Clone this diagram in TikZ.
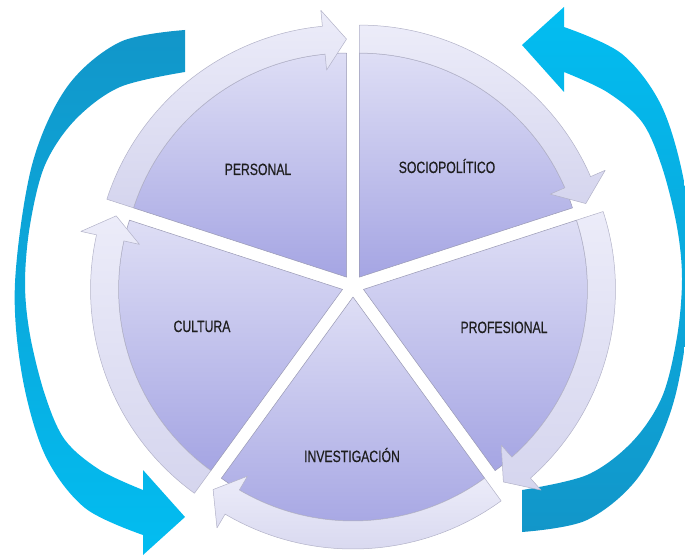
\documentclass[tikz,border=0pt]{standalone}
\usepackage{fontspec}
\setmainfont{Liberation Sans}
\newfontfamily\lblfont{Liberation Sans}[FakeBold=0.5]
\usepackage{graphicx}
\definecolor{pietop}{HTML}{DEDEF5}
\definecolor{piebot}{HTML}{A5A5E3}
\definecolor{pieedge}{HTML}{9A9AB4}
\definecolor{bandtop}{HTML}{ECECF9}
\definecolor{bandbot}{HTML}{D5D5EE}
\definecolor{bandedge}{HTML}{B2B2C8}
\definecolor{lbltext}{HTML}{1E1E1E}
\definecolor{bluedark}{HTML}{1296C9}
\definecolor{bluemid}{HTML}{08B0E4}
\definecolor{bluelight}{HTML}{02BDF1}
\newcommand\cycseg[3]{%
  \begin{scope}[shift={(353,269)}, shift={(#1:11)}]
    \path[pie] (0,0) -- (#2:224) arc[start angle=#2, end angle=#3, radius=224] -- cycle;
    \path[band] (#2:252) arc[start angle=#2, end angle=#3+5.5, radius=252]
      -- (#3+5.5:268) -- (#3:238) -- (#3+5.5:208) -- (#3+5.5:224)
      arc[start angle=#3+5.5, end angle=#2, radius=224] -- cycle;
  \end{scope}}
\begin{document}
\begin{tikzpicture}[x=1pt,y=1pt,
  pie/.style={top color=pietop, bottom color=piebot, draw=pieedge, line width=0.5pt, line join=round},
  band/.style={top color=bandtop, bottom color=bandbot, draw=bandedge, line width=0.5pt, line join=round},
  lbl/.style={text=lbltext, font=\lblfont\fontsize{16.3}{16}\selectfont, inner sep=0pt, anchor=base},
  bigarrow/.style={line join=round}]
\useasboundingbox (0,0) rectangle (685,555);
\clip (0,0) rectangle (685,555);

% left big blue arrow
\path[bigarrow, top color=bluedark, middle color=bluemid, bottom color=bluelight]
  (185,525) -- plot[smooth, tension=0.55] coordinates {(185,525) (120,513) (67,468) (32,390) (15,272) (22,180) (45,100) (85,47) (143,20)}
  -- (143,0) -- (185,38) -- (143,85) -- (143,65)
  -- plot[smooth, tension=0.55] coordinates {(143,65) (100,85) (65,115) (45,160) (30,220) (25,272) (30,330) (45,390) (75,435) (120,468) (185,483)}
  -- cycle;

% right big blue arrow
\path[bigarrow, top color=bluelight, middle color=bluemid, bottom color=bluedark]
  (522,23) -- plot[smooth, tension=0.55] coordinates {(522,23) (587,35) (640,80) (675,158) (692,276) (685,368) (662,448) (622,501) (564,528)}
  -- (564,548) -- (522,510) -- (564,463) -- (564,483)
  -- plot[smooth, tension=0.55] coordinates {(564,483) (607,463) (642,433) (662,388) (677,328) (682,276) (677,218) (662,158) (632,113) (587,80) (522,65)}
  -- cycle;

% five segments with their arrows
\cycseg{126}{162}{90}
\cycseg{54}{90}{18}
\cycseg{-18}{18}{-54}
\cycseg{-90}{-54}{-126}
\cycseg{198}{234}{162}

% labels
\node[lbl] (personal) at (258,380) {\scalebox{0.75}[1]{PERSONAL}};
\node[lbl] (socio) at (447,382) {\scalebox{0.75}[1]{SOCIOPOLÍTICO}};
\node[lbl] (prof) at (504,222) {\scalebox{0.75}[1]{PROFESIONAL}};
\node[lbl] (cultura) at (202,223) {\scalebox{0.75}[1]{CULTURA}};
\node[lbl] (inv) at (352,93) {\scalebox{0.75}[1]{INVESTIGACIÓN}};
\end{tikzpicture}
\end{document}
